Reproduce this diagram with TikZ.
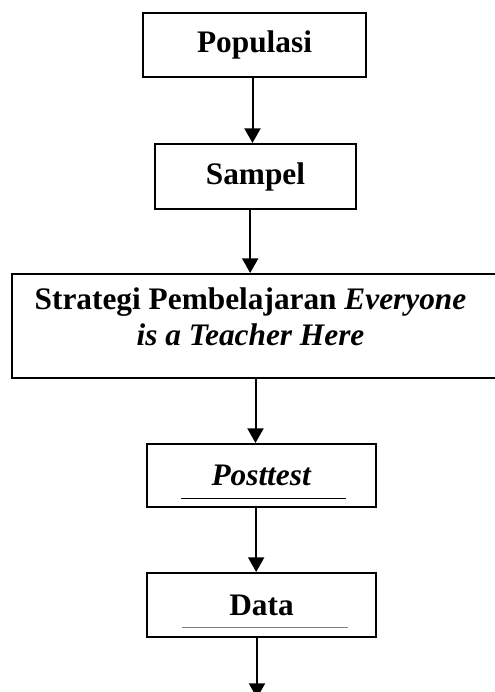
\documentclass[tikz,border=0pt]{standalone}
\usepackage{fontspec}
\setmainfont{Liberation Serif}
\usetikzlibrary{positioning,arrows.meta}
\begin{document}
\begin{tikzpicture}[>={Triangle[length=11pt,width=12pt]},x=0.75pt,y=-0.75pt,line cap=butt,
		kotak/.style={draw,line width=1.5pt,inner sep=0pt,font=\bfseries\fontsize{23.5}{27}\selectfont},
		alur/.style={->,line width=1.5pt},
		garisbawah/.style={line width=0.75pt}]
	\useasboundingbox (0,0) rectangle (495,692);
	\node[kotak,minimum width=167.25pt,minimum height=48pt] (populasi) at (254.5,45) {Populasi};
	\node[kotak,minimum width=150.75pt,minimum height=48.75pt] (sampel) at (255.5,176.5) {Sampel};
	\node[kotak,minimum width=369.75pt,minimum height=78pt] (bingkai) at (258.5,326) {};
	\node[font=\bfseries\fontsize{23.5}{27}\selectfont,align=center] (strategi) at (250.5,316.5)
		{Strategi Pembelajaran \textit{Everyone}\\ \textit{is a Teacher Here}};
	\node[kotak,minimum width=171.75pt,minimum height=47.25pt] (posttest) at (261.5,475.5) {\textit{Posttest}};
	\node[kotak,minimum width=171.75pt,minimum height=48pt] (data) at (261.5,605) {Data};
	\coordinate (akhir) at (257,698);
	%garis bawah di dalam kotak
	\draw[garisbawah] ([xshift=26.25pt,yshift=7.5pt]posttest.south west) -- ([xshift=-23.25pt,yshift=7.5pt]posttest.south east);
	\draw[garisbawah,gray] ([xshift=27pt,yshift=8.25pt]data.south west) -- ([xshift=-21.75pt,yshift=8.25pt]data.south east);
	%panah
	\draw[alur] ([xshift=-1.5pt]populasi.south) -- ([xshift=-1.5pt]populasi.south|-sampel.north);
	\draw[alur] ([xshift=-4pt]sampel.south) -- ([xshift=-4pt]sampel.south|-bingkai.north);
	\draw[alur] ([xshift=-4.5pt]posttest.north|-bingkai.south) -- ([xshift=-4.5pt]posttest.north);
	\draw[alur] ([xshift=-4pt]posttest.south) -- ([xshift=-4pt]data.north);
	\draw[alur] (data.south-|akhir) -- (akhir);
\end{tikzpicture}
\end{document}
